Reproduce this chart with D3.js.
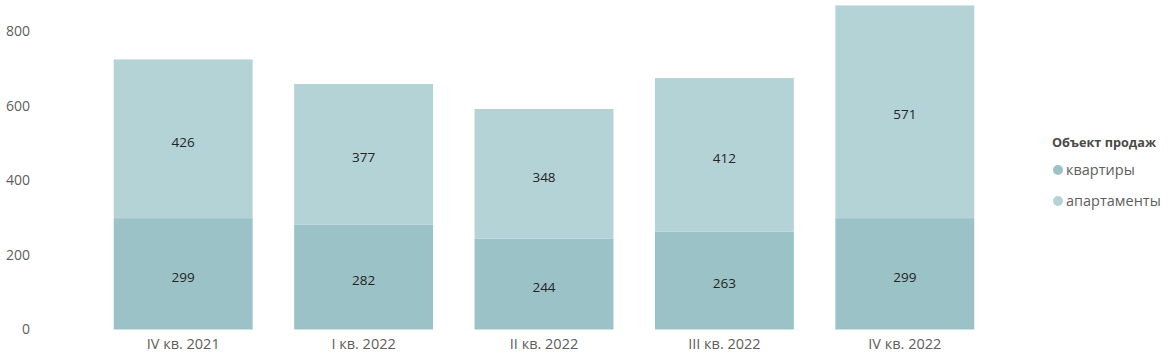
<!DOCTYPE html>
<html><head><meta charset="utf-8">
<script src="https://cdn.jsdelivr.net/npm/d3@7"></script>
<style>
body{margin:0;background:#fff;}
text{font-family:"Open Sans","Noto Sans",sans-serif;}
</style></head>
<body><svg id="c" width="1173" height="356"></svg>
<script>
const categories = ["IV кв. 2021","I кв. 2022","II кв. 2022","III кв. 2022","IV кв. 2022"];
const kvartiry = [299,282,244,263,299];
const apartamenty = [426,377,348,412,571];
const yTicks = [0,200,400,600,800];
const seriesNames = ["квартиры","апартаменты"];
const legendTitle = "Объект продаж";
const colors = ["#9bc3c7","#b4d3d7"];

const svg = d3.select("#c");
const x = d3.scaleBand().domain(categories).range([93,995]).paddingInner(0.23).paddingOuter(0.115);
const y = d3.scaleLinear().domain([0,800]).range([329.5,31.5]);

const data = categories.map((c,i)=>({c, a:kvartiry[i], b:apartamenty[i]}));
const stack = d3.stack().keys(["a","b"])(data);

stack.forEach((layer,li)=>{
  svg.append("g").selectAll("rect").data(layer).join("rect")
    .attr("x",d=>x(d.data.c)).attr("width",x.bandwidth())
    .attr("y",d=>y(d[1])).attr("height",d=>y(d[0])-y(d[1]))
    .attr("fill",colors[li]);
  svg.append("g").selectAll("text").data(layer).join("text")
    .attr("x",d=>x(d.data.c)+x.bandwidth()/2)
    .attr("y",d=>(y(d[0])+y(d[1]))/2 + 3)
    .attr("dy","0.35em").attr("text-anchor","middle")
    .attr("font-size",13.5).attr("fill","#252423")
    .text(d=>d[1]-d[0]);
});

const ya = svg.append("g").attr("transform","translate(30,0)")
  .call(d3.axisLeft(y).tickValues(yTicks).tickSize(0).tickPadding(0));
ya.select(".domain").remove();
ya.selectAll("text").attr("font-size",14).attr("fill","#605e5c").style("font-family",'"Open Sans","Noto Sans",sans-serif');

const xa = svg.append("g").attr("transform","translate(0,335)")
  .call(d3.axisBottom(x).tickSize(0).tickPadding(4));
xa.select(".domain").remove();
xa.selectAll("text").attr("font-size",14.5).attr("fill","#605e5c").style("font-family",'"Open Sans","Noto Sans",sans-serif');

const lg = svg.append("g");
lg.append("text").attr("x",1052).attr("y",147).attr("font-size",12.7).attr("font-weight","bold").attr("fill","#4a4a4a").text(legendTitle);
seriesNames.forEach((n,i)=>{
  const cy = 170 + i*31;
  lg.append("circle").attr("cx",1058).attr("cy",cy).attr("r",5).attr("fill",colors[i]);
  lg.append("text").attr("x",1066).attr("y",cy).attr("dy","0.35em").attr("font-size",14.5).attr("fill","#605e5c").text(n);
});
</script></body></html>
